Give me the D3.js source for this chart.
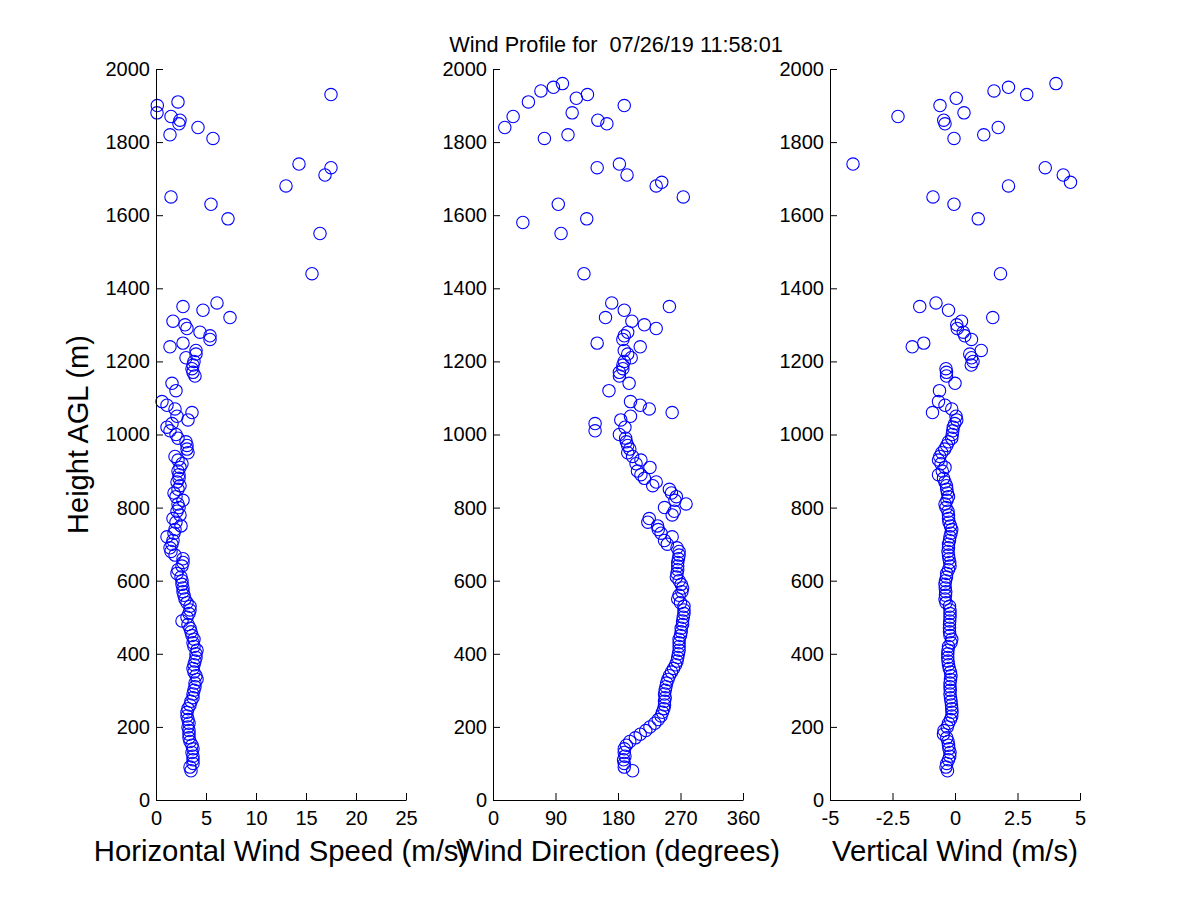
<!DOCTYPE html>
<html>
<head>
<meta charset="utf-8">
<script src="https://cdn.jsdelivr.net/npm/d3@7"></script>
<style>
  html, body { margin: 0; padding: 0; background: #ffffff; }
  svg { display: block; }
  text { font-family: "Liberation Sans", Arial, Helvetica, sans-serif; fill: #000; }
</style>
</head>
<body>
<svg id="chart" width="1200" height="900"></svg>
<script>
// ---- Data ----
const titleText = "Wind Profile for  07/26/19 11:58:01";

// Range gate heights (m AGL)
const heights = [
  80, 90, 100, 110, 120, 130, 140, 150, 160, 170,
  180, 190, 200, 210, 220, 230, 240, 250, 260, 270,
  280, 290, 300, 310, 320, 330, 340, 350, 360, 370,
  380, 390, 400, 410, 420, 430, 440, 450, 460, 470,
  480, 490, 500, 510, 520, 530, 540, 550, 560, 570,
  580, 590, 600, 610, 620, 630, 640, 650, 660, 670,
  680, 690, 700, 710, 720, 730, 740, 750, 760, 770,
  780, 790, 800, 810, 820, 830, 840, 850, 860, 870,
  880, 890, 900, 910, 920, 930, 940, 950, 960, 970,
  980, 990, 1000, 1010, 1020, 1030, 1040, 1050, 1060, 1070,
  1080, 1090, 1120, 1140, 1160, 1170, 1180, 1190, 1200, 1210,
  1220, 1230, 1240, 1250, 1260, 1270, 1280, 1290, 1300, 1310,
  1320, 1340, 1350, 1360,
  1440, 1550, 1580, 1590, 1630, 1650, 1680, 1690, 1710, 1730,
  1740, 1810, 1820, 1840, 1850, 1860, 1870, 1880, 1900, 1910,
  1920, 1930, 1940, 1950, 1960
];

// Horizontal wind speed (m/s); null = not shown (outside axis range)
const speed = [
  3.5, 3.4, 3.7, 3.7, 3.7, 3.6, 3.7, 3.6, 3.4, 3.3,
  3.3, 3.3, 3.2, 3.3, 3.2, 3.1, 3.1, 3.2, 3.4, 3.5,
  3.7, 3.7, 3.8, 3.9, 3.9, 4.1, 4.0, 3.8, 3.7, 3.8,
  3.9, 4.0, 4.0, 4.1, 3.8, 3.7, 3.8, 3.6, 3.5, 3.4,
  3.2, 2.6, 3.1, 3.3, 3.4, 3.4, 3.1, 2.9, 2.8, 2.7,
  2.7, 2.6, 2.6, 2.5, 2.1, 2.2, 2.6, 2.7, 2.7, 1.9,
  1.5, 1.4, 1.6, 1.7, 1.1, 1.8, 1.9, 2.5, 2.0, 1.7,
  2.4, 2.1, 2.3, 2.2, 2.7, 2.0, 1.8, 2.2, 2.4, 2.1,
  2.3, 2.3, 2.2, 2.4, 2.6, 2.2, 1.9, 3.2, 3.1, 3.1,
  3.0, 2.2, 2.0, 1.4, 1.1, 1.6, 3.2, 2.1, 3.6, 1.9,
  1.1, 0.6, 2.0, 1.6, 3.9, 3.7, 3.6, 3.7, 3.8, 3.0,
  4.0, 4.0, 1.4, 2.7, 5.4, 5.4, 4.4, 3.1, 2.9, 1.7,
  7.4, 4.7, 2.7, 6.1,
  15.6, 16.4, null, 7.2, 5.5, 1.5, 13.0, null, 16.9, 17.5,
  14.3, 5.7, 1.4, 4.2, 2.3, 2.4, 1.5, 0.1, 0.13, 2.2,
  null, 17.5, null, null, null
];

// Wind direction (degrees)
const direction = [
  201, 189, 189, 188, 190, 189, 189, 192, 197, 205,
  212, 220, 226, 233, 238, 242, 244, 246, 247, 247,
  248, 247, 248, 249, 250, 252, 254, 257, 260, 263,
  265, 266, 267, 268, 268, 268, 268, 270, 271, 271,
  273, 273, 274, 275, 275, 275, 270, 266, 268, 272,
  273, 271, 268, 264, 265, 266, 266, 266, 267, 268,
  268, 265, 251, 247, 258, 242, 238, 237, 223, 225,
  258, 261, 247, 278, 262, 264, 257, 254, 230, 235,
  218, 213, 208, 226, 206, 213, 201, 194, 197, 194,
  192, 191, 182, 147, 190, 147, 184, 198, 258, 225,
  212, 198, 167, 196, 182, 182, 187, 187, 189, 199,
  194, 189, 212, 150, 187, 189, 194, 235, 218, 200,
  162, 189, 254, 171,
  131, 98, 43, 135, 94, 274, 235, 243, 193, 150,
  182, 74, 108, 17, 164, 151, 29, 114, 189, 51,
  120, 136, 69, 87, 100
];

// Vertical wind (m/s); null = not shown (outside axis range)
const vertical = [
  -0.30, -0.36, -0.33, -0.26, -0.21, -0.20, -0.24, -0.26, -0.28, -0.33,
  -0.46, -0.44, -0.31, -0.26, -0.18, -0.13, -0.12, -0.13, -0.14, -0.16,
  -0.18, -0.20, -0.19, -0.20, -0.20, -0.18, -0.16, -0.18, -0.23, -0.26,
  -0.28, -0.29, -0.29, -0.28, -0.26, -0.16, -0.13, -0.20, -0.22, -0.22,
  -0.22, -0.21, -0.20, -0.20, -0.20, -0.22, -0.36, -0.40, -0.38, -0.37,
  -0.39, -0.40, -0.38, -0.34, -0.33, -0.26, -0.20, -0.21, -0.24, -0.26,
  -0.28, -0.26, -0.26, -0.22, -0.20, -0.16, -0.13, -0.18, -0.24, -0.26,
  -0.26, -0.28, -0.36, -0.40, -0.32, -0.26, -0.30, -0.33, -0.34, -0.40,
  -0.46, -0.66, -0.51, -0.40, -0.56, -0.66, -0.61, -0.53, -0.41, -0.33,
  -0.26, -0.13, -0.11, -0.09, -0.07, -0.01, 0.07, 0.04, -0.90, -0.13,
  -0.40, -0.66, -0.62, 0.00, -0.34, -0.34, -0.36, 0.65, 0.72, 0.66,
  0.59, 1.05, -1.71, -1.25, 0.66, 0.39, 0.33, 0.09, 0.07, 0.26,
  1.51, -0.26, -1.41, -0.76,
  1.82, null, null, 0.93, -0.04, -0.88, 2.14, 4.62, 4.33, 3.61,
  -4.08, -0.04, 1.15, 1.73, -0.40, -0.45, -2.28, 0.36, -0.60, null,
  0.05, 2.87, 1.56, 2.14, 4.04
];

// Axis ticks
const yTicks = [0, 200, 400, 600, 800, 1000, 1200, 1400, 1600, 1800, 2000];
const speedTicks = [0, 5, 10, 15, 20, 25];
const speedTickLabels = ["0", "5", "10", "15", "20", "25"];
const dirTicks = [0, 90, 180, 270, 360];
const dirTickLabels = ["0", "90", "180", "270", "360"];
const vertTicks = [-5, -2.5, 0, 2.5, 5];
const vertTickLabels = ["-5", "-2.5", "0", "2.5", "5"];

// ---- Drawing ----
const svg = d3.select("#chart");
const plotTop = 69, plotBottom = 800;
const y = d3.scaleLinear().domain([0, 2000]).range([plotBottom, plotTop]);

const panels = [
  { left: 156, right: 406, domain: [0, 25], ticks: speedTicks, labels: speedTickLabels,
    values: speed, title: "Horizontal Wind Speed (m/s)" },
  { left: 493, right: 743, domain: [0, 360], ticks: dirTicks, labels: dirTickLabels,
    values: direction, title: "Wind Direction (degrees)" },
  { left: 830, right: 1080, domain: [-5, 5], ticks: vertTicks, labels: vertTickLabels,
    values: vertical, title: "Vertical Wind (m/s)" }
];

const tickFont = 20;

panels.forEach(p => {
  const x = d3.scaleLinear().domain(p.domain).range([p.left, p.right]);
  const g = svg.append("g");

  // Points
  const pts = heights.map((h, i) => ({ h, v: p.values[i] })).filter(d => d.v !== null);
  g.append("g").selectAll("circle").data(pts).join("circle")
    .attr("cx", d => x(d.v))
    .attr("cy", d => y(d.h))
    .attr("r", 6.2)
    .attr("fill", "none")
    .attr("stroke", "#0000ff")
    .attr("stroke-width", 1.1);

  // X axis
  const xa = g.append("g")
    .attr("transform", `translate(0,${plotBottom})`)
    .call(d3.axisBottom(x).tickValues(p.ticks)
      .tickFormat((d, i) => p.labels[i])
      .tickSizeInner(-7).tickSizeOuter(0).tickPadding(11));
  // Y axis
  const ya = g.append("g")
    .attr("transform", `translate(${p.left},0)`)
    .call(d3.axisLeft(y).tickValues(yTicks)
      .tickFormat(d => String(d))
      .tickSizeInner(-7).tickSizeOuter(0).tickPadding(6));

  [xa, ya].forEach(a => {
    a.attr("font-family", null).attr("font-size", null);
    a.selectAll("path.domain").attr("stroke", "#000").attr("stroke-width", 1);
    a.selectAll(".tick line").attr("stroke", "#000").attr("stroke-width", 1);
    a.selectAll(".tick text")
      .style("font-family", '"Liberation Sans", Arial, sans-serif')
      .style("font-size", tickFont + "px")
      .attr("fill", "#000");
  });

  // X axis title
  g.append("text")
    .attr("x", (p.left + p.right) / 2)
    .attr("y", 861)
    .attr("text-anchor", "middle")
    .style("font-size", "29.3px")
    .text(p.title);
});

// Y axis title
svg.append("text")
  .attr("transform", `translate(88,${(plotTop + plotBottom) / 2}) rotate(-90)`)
  .attr("text-anchor", "middle")
  .style("font-size", "29px")
  .text("Height AGL (m)");

// Figure title
svg.append("text")
  .attr("x", 616)
  .attr("y", 52)
  .attr("text-anchor", "middle")
  .style("font-size", "21.7px")
  .style("white-space", "pre")
  .text(titleText);
</script>
</body>
</html>
